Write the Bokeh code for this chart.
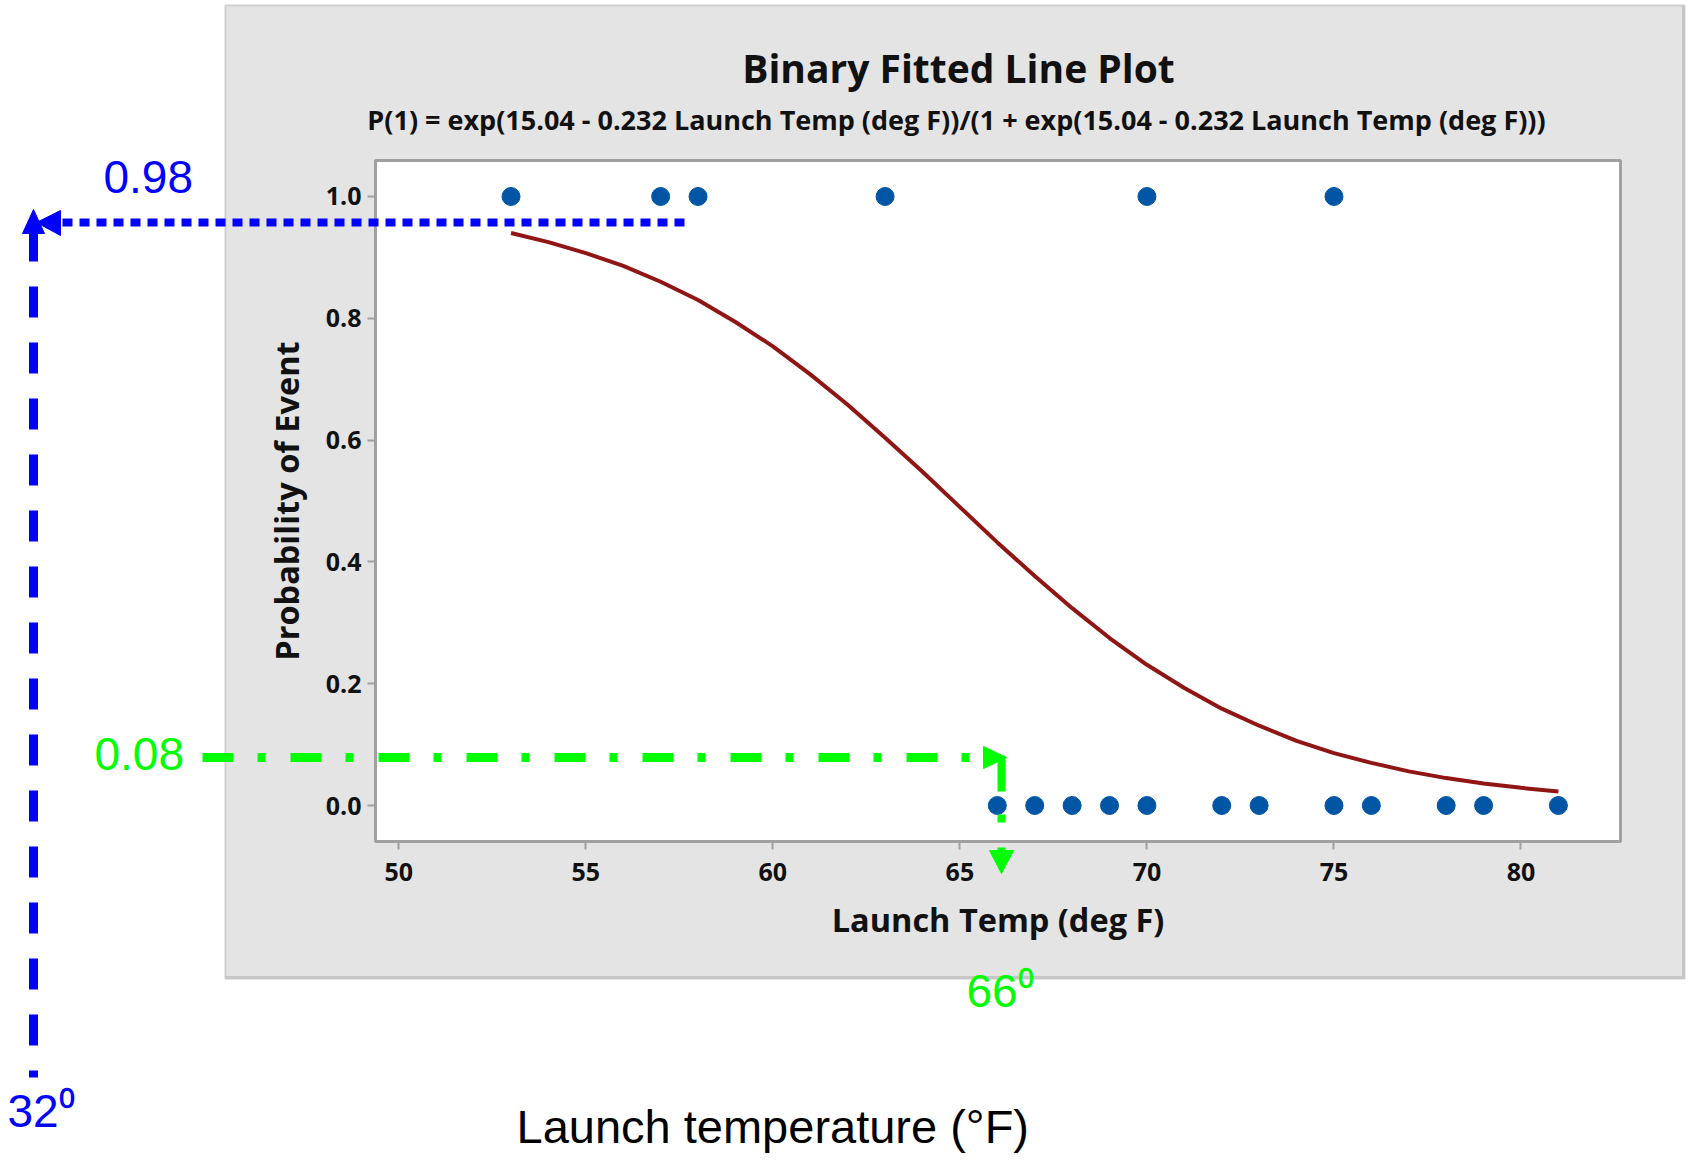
from bokeh.plotting import figure
from bokeh.models import FixedTicker, Range1d
from bokeh.core.properties import value
from bokeh.embed import file_html
from bokeh.resources import INLINE

# ---------------- data ----------------
event_temp = [53, 57, 58, 63, 70, 75]
event_val = [1, 1, 1, 1, 1, 1]
nonevent_temp = [66, 67, 68, 69, 70, 72, 73, 75, 76, 78, 79, 81]
nonevent_val = [0, 0, 0, 0, 0, 0, 0, 0, 0, 0, 0, 0]
fit_temp = [53, 54, 55, 56, 57, 58, 59, 60, 61, 62, 63, 64, 65, 66, 67,
            68, 69, 70, 71, 72, 73, 74, 75, 76, 77, 78, 79, 80, 81]
fit_prob = [0.940, 0.925, 0.907, 0.886, 0.860, 0.830, 0.794, 0.754, 0.708,
            0.658, 0.604, 0.548, 0.490, 0.432, 0.377, 0.324, 0.275, 0.231,
            0.193, 0.159, 0.131, 0.106, 0.086, 0.070, 0.056, 0.045, 0.036,
            0.029, 0.023]
x_ticks = [50, 55, 60, 65, 70, 75, 80]
y_ticks = [0.0, 0.2, 0.4, 0.6, 0.8, 1.0]
y_tick_labels = ["0.0", "0.2", "0.4", "0.6", "0.8", "1.0"]

title_text = "Binary Fitted Line Plot"
subtitle_text = "P(1) = exp(15.04 - 0.232 Launch Temp (deg F))/(1 + exp(15.04 - 0.232 Launch Temp (deg F)))"
x_label = "Launch Temp (deg F)"
y_label = "Probability of Event"
high_prob_text = "0.98"
low_prob_text = "0.08"
low_temp_text = "32\u2070"
mid_temp_text = "66\u2070"
bottom_text = "Launch temperature (\u00b0F)"

# ---------------- layout ----------------
W, H = 1686, 1154
FL, FR, FT, FB = 375, 1620, 160, 841      # frame edges (page px)
x_lo, x_hi = 49.377, 82.66
y_lo, y_hi = -0.0591, 1.0591


def X(px):
    return x_lo + (px - FL) * (x_hi - x_lo) / (FR - FL)


def Y(py):
    return y_hi - (py - FT) * (y_hi - y_lo) / (FB - FT)


PANEL = "#E4E4E4"
p = figure(width=W, height=H, output_backend="svg", toolbar_location=None,
           x_range=Range1d(x_lo, x_hi), y_range=Range1d(y_lo, y_hi),
           min_border_left=FL, min_border_right=W - FR,
           min_border_top=FT, min_border_bottom=H - FB,
           background_fill_color="white", border_fill_color=PANEL,
           outline_line_color="#A0A0A0", outline_line_width=3)
p.title.visible = False
p.xgrid.visible = False
p.ygrid.visible = False

FONT = "Open Sans"
for ax in (p.xaxis[0], p.yaxis[0]):
    ax.axis_line_color = "#A0A0A0"
    ax.axis_line_width = 3
    ax.major_tick_line_color = "#A0A0A0"
    ax.major_tick_line_width = 2
    ax.major_tick_out = 8
    ax.major_tick_in = 0
    ax.minor_tick_out = 0
    ax.minor_tick_in = 0
    ax.major_label_text_font = FONT
    ax.major_label_text_font_style = "bold"
    ax.major_label_text_font_size = "25px"
    ax.major_label_text_color = "#111111"
    ax.axis_label_text_font = FONT
    ax.axis_label_text_font_style = "bold"
    ax.axis_label_text_font_size = "32.5px"
    ax.axis_label_text_color = "#111111"

p.xaxis[0].ticker = FixedTicker(ticks=x_ticks)
p.yaxis[0].ticker = FixedTicker(ticks=y_ticks)
p.yaxis[0].major_label_overrides = {t: s for t, s in zip(y_ticks, y_tick_labels)}
p.xaxis[0].axis_label = x_label
p.yaxis[0].axis_label = y_label
p.xaxis[0].major_label_standoff = 13
p.yaxis[0].major_label_standoff = 6
p.xaxis[0].axis_label_standoff = 13
p.yaxis[0].axis_label_standoff = 14

# white page outside the grey panel (unclipped level)
PL, PR, PT, PB = 225, 1684, 5, 978
strip_l = [X(-200), X(PR), X(-200), X(-200)]
strip_r = [X(PL), X(1900), X(1900), X(1900)]
strip_t = [Y(-200), Y(-200), Y(PB), Y(-200)]
strip_b = [Y(1400), Y(1400), Y(1400), Y(PT)]
p.quad(left=strip_l, right=strip_r, top=strip_t, bottom=strip_b,
       fill_color="white", line_alpha=0, level="guide")
p.quad(left=[X(PL)], right=[X(PR)], top=[Y(PT)], bottom=[Y(PB)],
       fill_alpha=0, line_color="#CFCFCF", line_width=2, level="guide")
p.segment(x0=[X(PR - 1), X(PL)], y0=[Y(PT), Y(PB - 1)],
          x1=[X(PR - 1), X(PR)], y1=[Y(PB), Y(PB - 1)],
          line_color="#C6C6C6", line_width=3, level="guide")

# data
p.line(fit_temp, fit_prob, line_color="#901515", line_width=4)
p.scatter(event_temp, event_val, size=18, fill_color="#0055A5", line_color="#0055A5")
p.scatter(nonevent_temp, nonevent_val, size=18, fill_color="#0055A5", line_color="#0055A5")

# titles
p.text(x=[X(958)], y=[Y(67)], text=[title_text], text_align="center",
       text_baseline="alphabetic", text_font=value(FONT), text_font_style="bold",
       text_font_size="39px", text_color="#111111", level="annotation")
p.text(x=[X(956)], y=[Y(119)], text=[subtitle_text], text_align="center",
       text_baseline="alphabetic", text_font=value(FONT), text_font_style="bold",
       text_font_size="27px", text_color="#111111", level="annotation")

# ---------------- hand-drawn annotations ----------------
BLUE = "#0000FF"
GREEN = "#00FF00"
AFONT = "Liberation Sans"

# blue dotted horizontal arrow (0.98)
p.line(x=[X(684), X(60)], y=[Y(222), Y(222)], line_color=BLUE, line_width=8,
       line_dash="10 7", level="annotation")
p.patch(x=[X(36), X(60), X(60)], y=[Y(222), Y(210), Y(235)],
        fill_color=BLUE, line_color=BLUE, line_width=1, level="annotation")
# blue dashed vertical arrow (32 deg)
p.line(x=[X(33), X(33)], y=[Y(1077), Y(233)], line_color=BLUE, line_width=9,
       line_dash="31 25", line_dash_offset=24, level="annotation")
p.patch(x=[X(33), X(22), X(44)], y=[Y(209), Y(233), Y(233)],
        fill_color=BLUE, line_color=BLUE, line_width=1, level="annotation")
# green dash-dot horizontal arrow (0.08)
p.line(x=[X(202), X(983)], y=[Y(757), Y(757)], line_color=GREEN, line_width=9,
       line_dash="31 24 8 25", level="annotation")
p.patch(x=[X(1006), X(983), X(983)], y=[Y(757), Y(746), Y(768)],
        fill_color=GREEN, line_color=GREEN, line_width=1, level="annotation")
# green vertical arrow (66 deg)
p.line(x=[X(1001), X(1001)], y=[Y(757), Y(850)], line_color=GREEN, line_width=8,
       line_dash="34 23 8 25", level="annotation")
p.patch(x=[X(1001), X(989), X(1013)], y=[Y(873), Y(850), Y(850)],
        fill_color=GREEN, line_color=GREEN, line_width=1, level="annotation")

p.text(x=[X(103)], y=[Y(176)], text=[high_prob_text], text_align="left",
       text_baseline="alphabetic", text_font=value(AFONT),
       text_font_size="46px", text_color=BLUE, level="annotation")
p.text(x=[X(94)], y=[Y(753)], text=[low_prob_text], text_align="left",
       text_baseline="alphabetic", text_font=value(AFONT),
       text_font_size="46px", text_color=GREEN, level="annotation")
p.text(x=[X(966)], y=[Y(990)], text=[mid_temp_text], text_align="left",
       text_baseline="alphabetic", text_font=value(AFONT),
       text_font_size="46px", text_color=GREEN, level="annotation")
p.text(x=[X(7)], y=[Y(1110)], text=[low_temp_text], text_align="left",
       text_baseline="alphabetic", text_font=value(AFONT),
       text_font_size="46px", text_color=BLUE, level="annotation")
p.text(x=[X(516)], y=[Y(1126)], text=[bottom_text], text_align="left",
       text_baseline="alphabetic", text_font=value(AFONT),
       text_font_size="47px", text_color="black", level="annotation")

open("out.html", "w").write(file_html(p, INLINE))
